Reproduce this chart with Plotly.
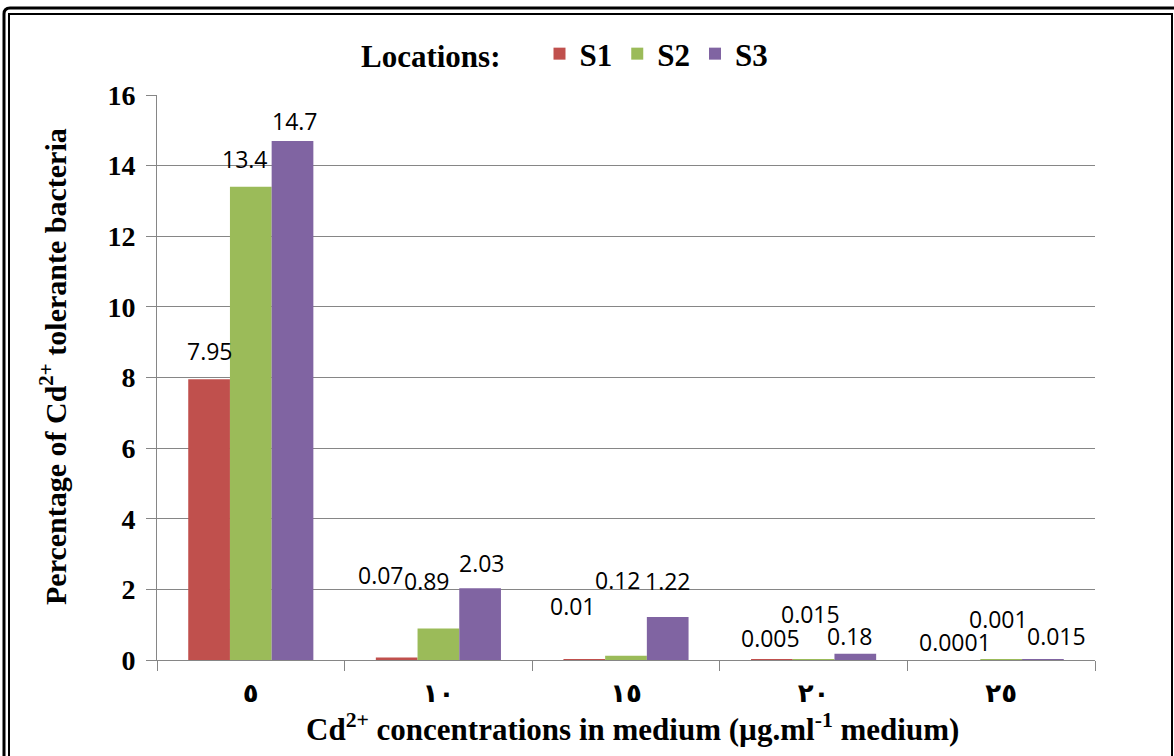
import plotly.graph_objects as go

# Cd2+ concentration groups (µg/ml), written with Arabic-Indic digits
categories = ["٥", "١٠", "١٥", "٢٠", "٢٥"]

# Percentage of Cd2+ tolerant bacteria at each sampling location
s1 = [7.95, 0.07, 0.01, 0.005, 0.0001]
s2 = [13.4, 0.89, 0.12, 0.015, 0.001]
s3 = [14.7, 2.03, 1.22, 0.18, 0.015]
series_names = ["S1", "S2", "S3"]

y_ticks = [0, 2, 4, 6, 8, 10, 12, 14, 16]

colors = ["#C0504D", "#9BBB59", "#8064A2"]

# Label placement (pixel offsets from category centre / bar top)
label_dx = [
    [-41, -57, -53, -43, -46],
    [-6, -11, -8, -3, -3],
    [44, 44, 42, 36, 55],
]
label_dy = [
    [28, 83, 54, 22, 18],
    [28, 48, 76, 45, 41],
    [20, 25, 36, 18, 23],
]

W, H = 1174, 756
ML, MR, MT, MB = 157, 1174 - 1095, 95, 756 - 660
PW, PH = W - ML - MR, H - MT - MB


def px(x):
    return (x - ML) / PW


def py(y):
    return (H - MB - y) / PH


serif = "Liberation Serif, Times New Roman, serif"
label_font = dict(family="Open Sans, Calibri, sans-serif", size=23, color="black")

fig = go.Figure()
for name, vals, col in zip(series_names, [s1, s2, s3], colors):
    fig.add_trace(go.Bar(x=categories, y=vals, name=name,
                         marker=dict(color=col, line=dict(width=0))))

# Value labels
annotations = []
for si, vals in enumerate([s1, s2, s3]):
    for ci, v in enumerate(vals):
        annotations.append(dict(
            x=categories[ci], y=v, xref="x", yref="y",
            text=str(v), showarrow=False, font=label_font,
            xanchor="center", yanchor="middle",
            xshift=label_dx[si][ci], yshift=label_dy[si][ci]))

# Axis titles
annotations.append(dict(
    x=px(632), y=py(727), xref="paper", yref="paper",
    text="Cd<sup>2+</sup> concentrations in medium (µg.ml<sup>-1</sup> medium)",
    showarrow=False, xanchor="center", yanchor="middle",
    font=dict(family=serif, size=31, color="black", weight="bold")))
annotations.append(dict(
    x=px(53), y=py(367), xref="paper", yref="paper",
    text="Percentage of Cd<sup>2+</sup> tolerante bacteria",
    showarrow=False, textangle=-90, xanchor="center", yanchor="middle",
    font=dict(family=serif, size=30, color="black", weight="bold")))

# Double frame around the figure
x0o, y0o = px(4), py(8)
x1o, y1o = px(1190), py(780)
r = 6
outer = (f"M {x0o},{y1o} L {x0o},{py(8 + r)} "
         f"Q {x0o},{y0o} {px(4 + r)},{y0o} L {x1o},{y0o}")
inner = (f"M {px(9)},{y1o} L {px(9)},{py(14)} "
         f"L {px(1172)},{py(14)} L {px(1172)},{y1o}")
shapes = [
    dict(type="path", xref="paper", yref="paper", path=outer,
         line=dict(color="black", width=3)),
    dict(type="path", xref="paper", yref="paper", path=inner,
         line=dict(color="black", width=2)),
]

fig.update_layout(
    width=W, height=H,
    margin=dict(l=ML, r=MR, t=MT, b=MB, autoexpand=False),
    paper_bgcolor="white", plot_bgcolor="white",
    barmode="group", bargap=0.333, bargroupgap=0,
    annotations=annotations, shapes=shapes,
    legend=dict(
        orientation="h", x=px(359), y=py(54), xanchor="left", yanchor="middle",
        title=dict(text="Locations:    ", side="left",
                   font=dict(family=serif, size=31, color="black", weight="bold")),
        font=dict(family=serif, size=31, color="black", weight="bold"),
        bgcolor="rgba(0,0,0,0)", itemwidth=30, tracegroupgap=0,
    ),
    xaxis=dict(
        type="category", showline=True, linecolor="#868686", linewidth=1,
        ticks="outside", tickson="boundaries", ticklen=10, tickcolor="#868686",
        tickfont=dict(family="DejaVu Sans, sans-serif", size=26, color="black", weight="bold"),
        ticklabelstandoff=10, showgrid=False, fixedrange=True,
    ),
    yaxis=dict(
        range=[0, 16], tickvals=y_ticks, showline=True, linecolor="#868686",
        linewidth=1, ticks="outside", ticklen=10, tickcolor="#868686",
        showgrid=True, gridcolor="#868686", gridwidth=1, zeroline=False,
        tickfont=dict(family=serif, size=28, color="black", weight="bold"),
        ticklabelstandoff=5,
    ),
)

fig.write_html("out.html")
